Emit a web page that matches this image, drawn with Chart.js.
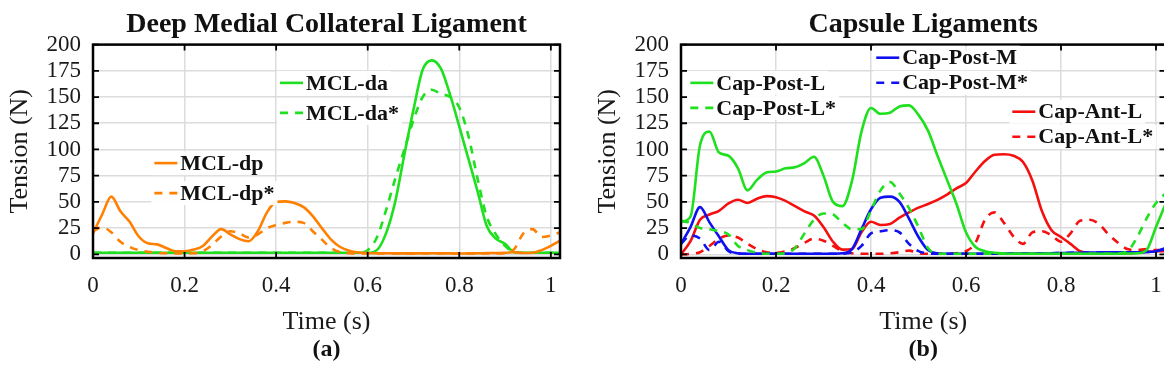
<!DOCTYPE html>
<html>
<head>
<meta charset="utf-8">
<script src="https://cdn.jsdelivr.net/npm/chart.js@4.4.0/dist/chart.umd.min.js"></script>
<style>
  html, body { margin: 0; padding: 0; background: #fff; overflow: hidden; width: 1164px; height: 388px; }
  canvas { position: absolute; top: 0; }
  #chartA { left: 0; }
  #chartB { left: 588px; }
</style>
</head>
<body>
<canvas id="chartA" width="580" height="388"></canvas>
<canvas id="chartB" width="600" height="388"></canvas>
<script>
// sample times (s)
const time = [0, 0.02, 0.04, 0.06, 0.08, 0.1, 0.12, 0.14, 0.16, 0.18,
              0.2, 0.22, 0.24, 0.26, 0.28, 0.3, 0.32, 0.34, 0.36, 0.38,
              0.4, 0.42, 0.44, 0.46, 0.48, 0.5, 0.52, 0.54, 0.56, 0.58,
              0.6, 0.62, 0.64, 0.66, 0.68, 0.7, 0.72, 0.74, 0.76, 0.78,
              0.8, 0.82, 0.84, 0.86, 0.88, 0.9, 0.92, 0.94, 0.96, 0.98,
              1, 1.02];

// deep MCL tension (N)
const mclDa = [1.5, 1.5, 1.5, 1.5, 1.5, 1.5, 1.5, 1.5, 1.5, 1.5,
               1.5, 1.5, 1.5, 1.5, 1.5, 1.5, 1.5, 1.5, 1.5, 1.5,
               1.5, 1.5, 1.5, 1.5, 1.5, 1.5, 1.5, 1.5, 1.5, 1.5,
               1.5, 4, 20, 50, 95, 138, 176, 185, 177, 152,
               122, 91, 60, 27, 15, 10, 2, 1.5, 1.5, 1.5,
               1.5, 1.5];
const mclDaStar = [1.5, 1.5, 1.5, 1.5, 1.5, 1.5, 1.5, 1.5, 1.5, 1.5,
                   1.5, 1.5, 1.5, 1.5, 1.5, 1.5, 1.5, 1.5, 1.5, 1.5,
                   1.5, 1.5, 1.5, 1.5, 1.5, 1.5, 1.5, 1.5, 1.5, 1.5,
                   4, 16, 42, 72, 100, 128, 150, 157, 153, 150,
                   140, 113, 72, 36, 19, 8, 2, 1.5, 1.5, 1.5,
                   1.5, 1.5];
const mclDp = [20, 38, 55, 41, 31, 17, 10.5, 9.5, 6, 3,
               3, 4.5, 8, 17, 24, 19, 14.5, 12.5, 22, 40,
               50, 50.5, 49, 45, 36.5, 25, 14, 7, 3.5, 1.8,
               1.2, 1, 1, 1, 0.9, 0.9, 1, 1, 1, 0.9,
               0.8, 0.9, 1, 1.2, 1.3, 1.5, 2, 1.3, 1.5, 4,
               8, 13];
const mclDpStar = [22, 26, 21, 12, 7, 4, 2.5, 1.5, 1, 0.8,
                   0.8, 1, 3, 9, 17, 22, 20, 16, 19, 25,
                   28, 30, 31, 30, 22, 14, 6, 2, 1, 0.8,
                   0.8, 0.8, 0.8, 0.8, 0.8, 0.8, 0.8, 0.8, 0.8, 0.8,
                   0.8, 0.8, 0.8, 0.8, 0.8, 1, 5, 20, 24, 16.5,
                   18, 21];

// capsule ligament tension (N)
const capPostL = [31, 36, 104, 117, 97, 94, 82, 61, 71, 78,
                  79, 82, 83, 87, 93, 75, 50, 46, 70, 117,
                  139.5, 134, 135, 141, 142, 133, 118, 94, 71, 48,
                  21, 7, 3, 1.5, 0.8, 0.5, 0.5, 0.5, 0.5, 0.5,
                  0.5, 0.5, 0.5, 0.5, 0.5, 0.5, 0.6, 0.8, 1, 4,
                  26, 48];
const capPostLStar = [32, 30, 25, 24, 22, 19, 8, 4, 1.5, 0.5,
                      0.5, 1, 6, 20, 33, 39, 38, 30, 24, 24,
                      42, 61, 69, 58, 44, 26, 6, 0.5, 0.5, 0.5,
                      0.5, 0.5, 0.5, 0.5, 0.5, 0.5, 0.5, 0.5, 0.5, 0.5,
                      0.5, 0.5, 0.5, 0.5, 0.5, 0.5, 0.8, 3, 16, 34,
                      49, 58];
const capPostM = [10, 26, 45, 30.5, 17, 4, 1, 0.5, 0.5, 0.5,
                  0.5, 0.5, 0.5, 0.5, 0.5, 0.5, 0.6, 1, 5, 24,
                  43, 54, 55, 50, 34, 16.5, 4, 1, 0.5, 0.5,
                  0.5, 0.5, 0.5, 0.6, 0.6, 0.7, 0.8, 0.8, 1, 1,
                  1.2, 1.4, 1.5, 1.6, 1.8, 2, 2, 2, 2, 2.2,
                  3, 6];
const capPostMStar = [10, 18, 15, 4, 12, 3, 0.5, 0.5, 0.5, 0.5,
                      0.5, 0.5, 0.5, 0.5, 0.5, 0.5, 0.5, 0.6, 2, 8,
                      20, 22, 23, 21, 10, 3, 1, 0.5, 0.5, 0.5,
                      0.5, 0.5, 0.5, 0.6, 0.6, 0.7, 0.8, 0.8, 1, 1,
                      1.2, 1.4, 1.5, 1.6, 1.8, 2, 2, 2, 2, 2.2,
                      3, 5];
const capAntL = [0, 12.5, 33, 38, 41.5, 48.5, 52, 49, 53, 55.5,
                 54.5, 51, 46, 41, 37, 26, 12, 4.5, 5, 21,
                 31, 28, 29, 35, 40, 44.5, 48, 52, 57, 63,
                 68, 79, 89, 95, 95.5, 94, 88, 70, 41, 23,
                 16.5, 10, 3, 1.2, 1, 1, 1, 1, 1.5, 2.5,
                 3, 3];
const capAntLStar = [0, 0.5, 2, 8, 15, 18, 16, 10, 5, 2,
                     1.5, 3, 6, 11, 15, 13, 8, 3, 1, 0.5,
                     0.5, 0.5, 1, 2, 3.5, 1, 0.5, 0.5, 0.5, 1,
                     3, 11, 33, 40, 30, 17, 10, 21, 22, 18,
                     12, 20, 32, 33, 29, 19, 11, 5, 4, 5,
                     4, 4];

const xTicks = [0, 0.2, 0.4, 0.6, 0.8, 1];
const yTicks = [0, 25, 50, 75, 100, 125, 150, 175, 200];

const GREEN = '#1ee01e';
const ORANGE = '#ff8000';
const BLUE = '#1010f0';
const RED = '#f51010';

Chart.defaults.font.family = "'Liberation Serif', 'Times New Roman', serif";
Chart.defaults.color = '#1a1a1a';

function series(label, values, color, dashed, order) {
  return {
    label: label,
    data: time.map((t, i) => ({ x: t, y: values[i] })),
    borderColor: color,
    borderWidth: 2.6,
    borderDash: dashed ? [8, 7] : [],
    pointRadius: 0,
    cubicInterpolationMode: 'monotone',
    fill: false,
    order: order
  };
}

// black box around the plot with inward tick marks on all four sides
const boxFrame = {
  id: 'boxFrame',
  afterDatasetsDraw(chart) {
    const { ctx, chartArea: a, scales } = chart;
    const len = 6;
    ctx.save();
    ctx.strokeStyle = '#000';
    ctx.lineWidth = 1.8;
    ctx.beginPath();
    xTicks.forEach(v => {
      const px = scales.x.getPixelForValue(v);
      ctx.moveTo(px, a.bottom); ctx.lineTo(px, a.bottom - len);
      ctx.moveTo(px, a.top); ctx.lineTo(px, a.top + len);
    });
    yTicks.forEach(v => {
      const py = scales.y.getPixelForValue(v);
      ctx.moveTo(a.left, py); ctx.lineTo(a.left + len, py);
      ctx.moveTo(a.right, py); ctx.lineTo(a.right - len, py);
    });
    ctx.stroke();
    ctx.lineWidth = 2.5;
    ctx.strokeRect(a.left, a.top, a.right - a.left, a.bottom - a.top);
    ctx.restore();
  }
};

// legend entries placed inside the plot, anchored in data coordinates
const inlineLegend = {
  id: 'inlineLegend',
  afterDatasetsDraw(chart, args, opts) {
    const { ctx, scales } = chart;
    ctx.save();
    ctx.font = "bold 22px 'Liberation Serif', serif";
    ctx.textBaseline = 'middle';
    opts.groups.forEach(g => {
      const px = scales.x.getPixelForValue(g.x);
      const py = scales.y.getPixelForValue(g.y);
      g.items.forEach((idx, k) => {
        const ds = chart.data.datasets[idx];
        const rowY = py + k * opts.rowGap;
        const tw = ctx.measureText(ds.label).width;
        ctx.fillStyle = 'rgba(255,255,255,0.92)';
        ctx.fillRect(px - 3, rowY - 12, tw + 32, 24);
        ctx.strokeStyle = ds.borderColor;
        ctx.lineWidth = 2.6;
        ctx.setLineDash(ds.borderDash.length ? [8, 7] : []);
        ctx.beginPath();
        ctx.moveTo(px, rowY);
        ctx.lineTo(px + 23, rowY);
        ctx.stroke();
        ctx.setLineDash([]);
        ctx.fillStyle = '#111';
        ctx.fillText(ds.label, px + 26, rowY + 1);
      });
    });
    ctx.restore();
  }
};

function makeOptions(title, caption, rightPad, legend) {
  return {
    responsive: false,
    animation: false,
    layout: { padding: { top: 0, left: 0, right: rightPad, bottom: 26 } },
    plugins: {
      legend: { display: false },
      tooltip: { enabled: false },
      title: {
        display: true, text: title, fullSize: false, color: '#111',
        font: { size: 28, weight: 'bold' }, padding: { top: 8, bottom: 3 }
      },
      subtitle: {
        display: true, text: caption, position: 'bottom', fullSize: false, color: '#111',
        font: { size: 24, weight: 'bold', lineHeight: 1 }, padding: { top: 0, bottom: 0 }
      },
      inlineLegend: legend
    },
    scales: {
      x: {
        type: 'linear', min: 0, max: 1.02,
        afterFit: s => { s.height = 80; },
        afterBuildTicks: s => { s.ticks = xTicks.map(v => ({ value: v })); },
        ticks: {
          autoSkip: false, maxRotation: 0, padding: 14,
          font: { size: 23 }, color: '#1a1a1a',
          callback: v => String(Math.round(v * 10) / 10)
        },
        grid: { color: '#dcdcdc', lineWidth: 1.5, drawTicks: false },
        border: { display: false },
        title: {
          display: true, text: 'Time (s)', color: '#1a1a1a',
          font: { size: 26 }, padding: { top: 0, bottom: 0 }
        }
      },
      y: {
        min: -3.5, max: 200,
        afterFit: s => { s.width = 93; },
        afterBuildTicks: s => { s.ticks = yTicks.map(v => ({ value: v })); },
        ticks: { autoSkip: false, padding: 12, font: { size: 23 }, color: '#1a1a1a' },
        grid: { color: '#dcdcdc', lineWidth: 1.5, drawTicks: false },
        border: { display: false },
        title: {
          display: true, text: 'Tension (N)', color: '#1a1a1a',
          font: { size: 26 }, padding: { top: 5, bottom: 0 }
        }
      }
    }
  };
}

new Chart(document.getElementById('chartA'), {
  type: 'line',
  data: {
    datasets: [
      series('MCL-da', mclDa, GREEN, false, 3),
      series('MCL-da*', mclDaStar, GREEN, true, 4),
      series('MCL-dp', mclDp, ORANGE, false, 1),
      series('MCL-dp*', mclDpStar, ORANGE, true, 2)
    ]
  },
  options: makeOptions('Deep Medial Collateral Ligament', '(a)', 20, {
    rowGap: 30,
    groups: [
      { x: 0.4085, y: 163.5, items: [0, 1] },
      { x: 0.134, y: 87, items: [2, 3] }
    ]
  }),
  plugins: [boxFrame, inlineLegend]
});

new Chart(document.getElementById('chartB'), {
  type: 'line',
  data: {
    datasets: [
      series('Cap-Post-L', capPostL, GREEN, false, 1),
      series('Cap-Post-L*', capPostLStar, GREEN, true, 2),
      series('Cap-Post-M', capPostM, BLUE, false, 3),
      series('Cap-Post-M*', capPostMStar, BLUE, true, 4),
      series('Cap-Ant-L', capAntL, RED, false, 5),
      series('Cap-Ant-L*', capAntLStar, RED, true, 6)
    ]
  },
  options: makeOptions('Capsule Ligaments', '(b)', 22.5, {
    rowGap: 25,
    groups: [
      { x: 0.0196, y: 163.5, items: [0, 1] },
      { x: 0.411, y: 187.5, items: [2, 3] },
      { x: 0.6975, y: 136, items: [4, 5] }
    ]
  }),
  plugins: [boxFrame, inlineLegend]
});
</script>
</body>
</html>
